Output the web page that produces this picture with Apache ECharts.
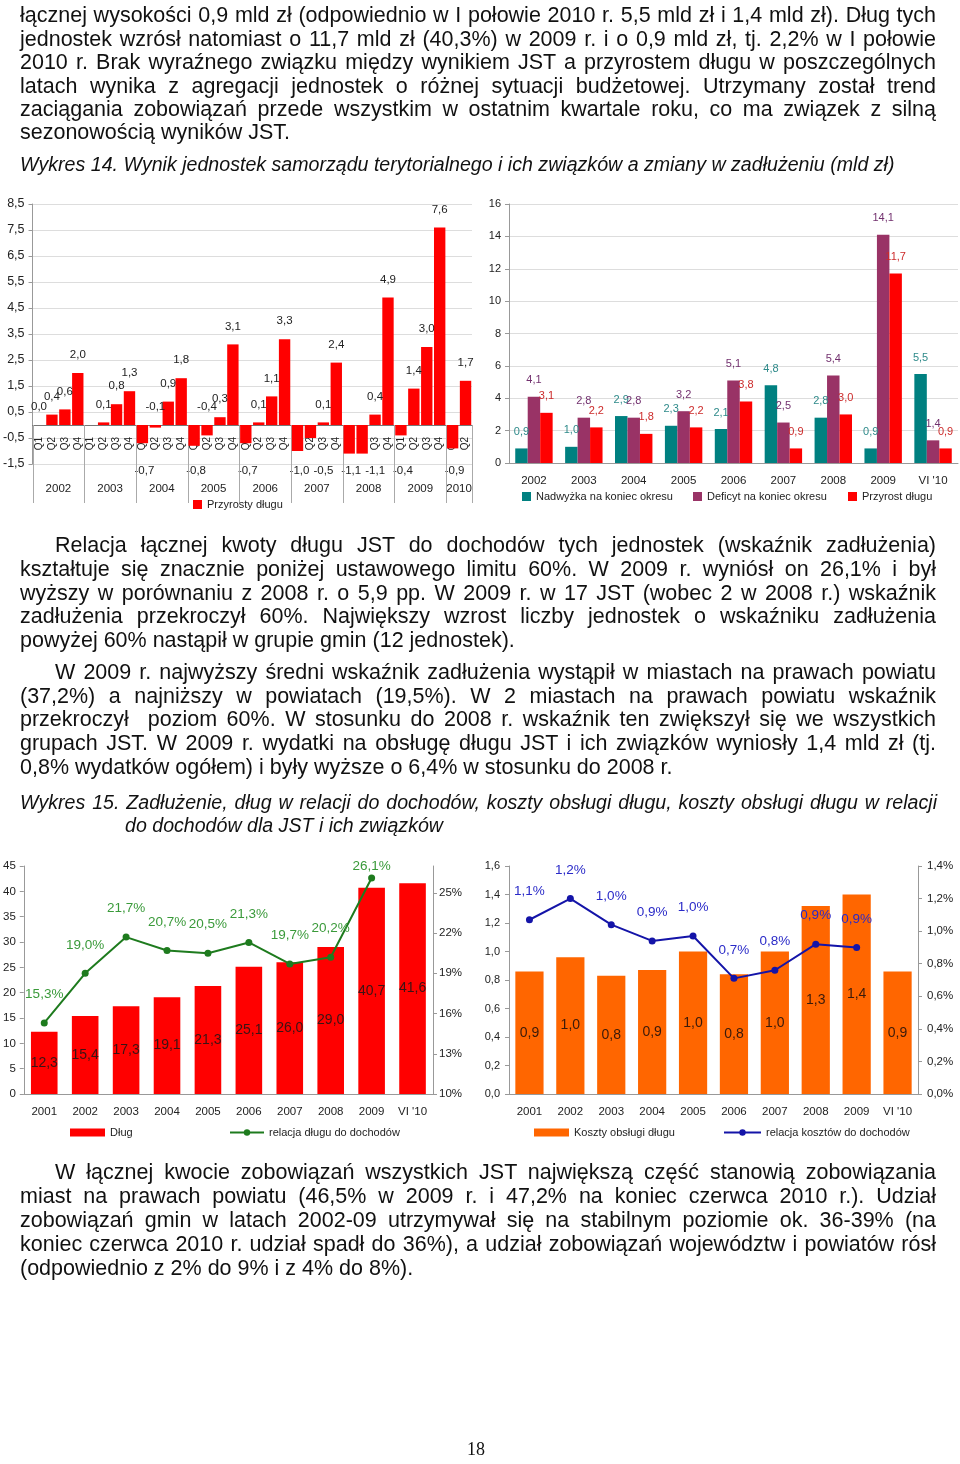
<!DOCTYPE html>
<html><head><meta charset="utf-8">
<script src="https://cdn.jsdelivr.net/npm/echarts@6/dist/echarts.min.js"></script>
<style>
html,body{margin:0;padding:0;background:#fff;}
#page{position:relative;width:960px;height:1464px;overflow:hidden;background:#fff;}
#chart{position:absolute;left:0;top:0;width:960px;height:1464px;}
.ln{position:absolute;white-space:pre;color:#111;}
</style></head>
<body><div id="page"><div id="chart"></div></div>
<script>
// ---------------- DATA ----------------
// Wykres 14 (left): quarterly debt growth, mld zł
const w14Years = ['2002','2003','2004','2005','2006','2007','2008','2009','2010'];
const w14QuartersPerYear = [4,4,4,4,4,4,4,4,2];
const w14QuarterNames = ['Q1','Q2','Q3','Q4'];
const w14Growth = [0.0,0.4,0.6,2.0, null,0.1,0.8,1.3, -0.7,-0.1,0.9,1.8, -0.8,-0.4,0.3,3.1,
                   -0.7,0.1,1.1,3.3, -1.0,-0.5,0.1,2.4, -1.1,-1.1,0.4,4.9, -0.4,1.4,3.0,7.6, -0.9,1.7];
const w14SeriesName = 'Przyrosty długu';
// Wykres 14 (right): surplus / deficit / debt growth
const w14bCategories = ['2002','2003','2004','2005','2006','2007','2008','2009',"VI '10"];
const surplus = [0.9,1.0,2.9,2.3,2.1,4.8,2.8,0.9,5.5];
const deficit = [4.1,2.8,2.8,3.2,5.1,2.5,5.4,14.1,1.4];
const debtGrowth = [3.1,2.2,1.8,2.2,3.8,0.9,3.0,11.7,0.9];
const w14bNames = ['Nadwyżka na koniec okresu','Deficyt na koniec okresu','Przyrost długu'];
// Wykres 15
const w15Categories = ['2001','2002','2003','2004','2005','2006','2007','2008','2009',"VI '10"];
const debt = [12.3,15.4,17.3,19.1,21.3,25.1,26.0,29.0,40.7,41.6];
const debtToIncome = [15.3,19.0,21.7,20.7,20.5,21.3,19.7,20.2,26.1,null];
const serviceCost = [0.86,0.96,0.83,0.87,1.00,0.84,1.00,1.32,1.40,0.86];
const costToIncome = [1.07,1.20,1.04,0.94,0.97,0.71,0.76,0.92,0.90,null];
const w15Names = ['Dług','relacja długu do dochodów','Koszty obsługi długu','relacja kosztów do dochodów'];

// label placement config (style, not data)
const W14_NEG_LABEL_ABOVE = ['2004 Q2','2005 Q2'];
const W15_CLOSE_LABEL = ['2009'];

// ---------------- PAGE TEXT ----------------
const BODY = {size:21.5, style:'normal', fam:"'Liberation Sans', Arial, sans-serif", asc:0.8465};
const CAP = {size:19.6, style:'italic', fam:"'Liberation Sans', Arial, sans-serif", asc:0.8465};
const SERIF = {size:18, style:'normal', fam:"'Liberation Serif', 'Times New Roman', serif", asc:0.8375};
const textLines = [
 {t:'łącznej wysokości 0,9 mld zł (odpowiednio w I połowie 2010 r. 5,5 mld zł i 1,4 mld zł). Dług tych', x0:20, x1:936, b:23.5, j:1, f:BODY},
 {t:'jednostek wzrósł natomiast o 11,7 mld zł (40,3%) w 2009 r. i o 0,9 mld zł, tj. 2,2% w I połowie', x0:20, x1:936, b:46.9, j:1, f:BODY},
 {t:'2010 r. Brak wyraźnego związku między wynikiem JST a przyrostem długu w poszczególnych', x0:20, x1:936, b:70.3, j:1, f:BODY},
 {t:'latach wynika z agregacji jednostek o różnej sytuacji budżetowej. Utrzymany został trend', x0:20, x1:936, b:93.7, j:1, f:BODY},
 {t:'zaciągania zobowiązań przede wszystkim w ostatnim kwartale roku, co ma związek z silną', x0:20, x1:936, b:117.1, j:1, f:BODY},
 {t:'sezonowością wyników JST.', x0:20, b:140.5, f:BODY},
 {t:'Wykres 14. Wynik jednostek samorządu terytorialnego i ich związków a zmiany w zadłużeniu (mld zł)', x0:20, b:171.5, f:CAP},
 {t:'Relacja łącznej kwoty długu JST do dochodów tych jednostek (wskaźnik zadłużenia)', x0:55, x1:936, b:553.3, j:1, f:BODY},
 {t:'kształtuje się znacznie poniżej ustawowego limitu 60%. W 2009 r. wyniósł on 26,1% i był', x0:20, x1:936, b:577, j:1, f:BODY},
 {t:'wyższy w porównaniu z 2008 r. o 5,9 pp. W 2009 r. w 17 JST (wobec 2 w 2008 r.) wskaźnik', x0:20, x1:936, b:600.8, j:1, f:BODY},
 {t:'zadłużenia przekroczył 60%. Największy wzrost liczby jednostek o wskaźniku zadłużenia', x0:20, x1:936, b:624.5, j:1, f:BODY},
 {t:'powyżej 60% nastąpił w grupie gmin (12 jednostek).', x0:20, b:648.3, f:BODY},
 {t:'W 2009 r. najwyższy średni wskaźnik zadłużenia wystąpił w miastach na prawach powiatu', x0:55, x1:936, b:680, j:1, f:BODY},
 {t:'(37,2%) a najniższy w powiatach (19,5%). W 2 miastach na prawach powiatu wskaźnik', x0:20, x1:936, b:703.8, j:1, f:BODY},
 {t:'przekroczył  poziom 60%. W stosunku do 2008 r. wskaźnik ten zwiększył się we wszystkich', x0:20, x1:936, b:727.5, j:1, f:BODY},
 {t:'grupach JST. W 2009 r. wydatki na obsługę długu JST i ich związków wyniosły 1,4 mld zł (tj.', x0:20, x1:936, b:751.3, j:1, f:BODY},
 {t:'0,8% wydatków ogółem) i były wyższe o 6,4% w stosunku do 2008 r.', x0:20, b:775, f:BODY},
 {t:'Wykres 15. Zadłużenie, dług w relacji do dochodów, koszty obsługi długu, koszty obsługi długu w relacji', x0:20, x1:937, b:809.5, j:1, f:CAP},
 {t:'do dochodów dla JST i ich związków', x0:125, b:832.5, f:CAP},
 {t:'W łącznej kwocie zobowiązań wszystkich JST największą część stanowią zobowiązania', x0:55, x1:936, b:1180, j:1, f:BODY},
 {t:'miast na prawach powiatu (46,5% w 2009 r. i 47,2% na koniec czerwca 2010 r.). Udział', x0:20, x1:936, b:1204, j:1, f:BODY},
 {t:'zobowiązań gmin w latach 2002-09 utrzymywał się na stabilnym poziomie ok. 36-39% (na', x0:20, x1:936, b:1228, j:1, f:BODY},
 {t:'koniec czerwca 2010 r. udział spadł do 36%), a udział zobowiązań województw i powiatów rósł', x0:20, x1:936, b:1252, j:1, f:BODY},
 {t:'(odpowiednio z 2% do 9% i z 4% do 8%).', x0:20, b:1276, f:BODY},
 {t:'18', x0:467, b:1455, f:SERIF}
];
const page = document.getElementById('page');
textLines.forEach(L => {
  const d = document.createElement('div');
  d.className = 'ln';
  d.textContent = L.t;
  d.style.fontFamily = L.f.fam;
  d.style.fontSize = L.f.size + 'px';
  d.style.fontStyle = L.f.style;
  d.style.lineHeight = L.f.size + 'px';
  const asc = L.f.asc * L.f.size;
  d.style.left = L.x0 + 'px';
  d.style.top = (L.b - asc) + 'px';
  page.appendChild(d);
  if (L.j) {
    const w = d.getBoundingClientRect().width;
    const n = (L.t.match(/ /g) || []).length;
    if (n) d.style.wordSpacing = ((L.x1 - L.x0 - w) / n) + 'px';
  }
  if (L.f !== SERIF) {
    d.style.transformOrigin = '0 ' + asc + 'px';
    d.style.transform = 'scaleY(1.04)';
  }
});

// ---------------- CHARTS ----------------
const FONT_N = "'Liberation Sans', Arial, sans-serif";
const LBL = '#222';
const AXIS = '#999';
const fmt1 = v => Number(v).toFixed(1).replace('.', ',');

const w14Cats = [], w14Keys = [];
w14Years.forEach((y, k) => {
  for (let q = 0; q < w14QuartersPerYear[k]; q++) {
    w14Cats.push(w14QuarterNames[q]);
    w14Keys.push(y + ' ' + w14QuarterNames[q]);
  }
});
const isBottomLabel = i => w14Growth[i] != null && w14Growth[i] < 0 && !W14_NEG_LABEL_ABOVE.includes(w14Keys[i]);
const w14Data = w14Growth.map((v, i) => {
  if (v == null) return null;
  if (isBottomLabel(i)) return {value: v, label: {show: false}};
  return v;
});
const w15LineData = debtToIncome.map((v, i) =>
  (v != null && W15_CLOSE_LABEL.includes(w15Categories[i])) ? {value: v, label: {distance: 1}} : v);

const valAxisBase = (extra) => Object.assign({
  type: 'value',
  axisLine: {show: true, lineStyle: {color: AXIS}},
  axisTick: {show: true, length: 4, lineStyle: {color: AXIS}},
  splitLine: {show: false},
  axisLabel: {color: LBL, fontFamily: FONT_N, fontSize: 11.5}
}, extra);

const catAxisBase = (extra) => Object.assign({
  type: 'category',
  axisLine: {lineStyle: {color: AXIS}},
  axisTick: {length: 5, lineStyle: {color: AXIS}},
  axisLabel: {color: LBL, fontFamily: FONT_N, fontSize: 11.5, margin: 12, interval: 0}
}, extra);

const legendBase = (extra) => Object.assign({
  padding: 0, itemGap: 0,
  textStyle: {color: LBL, fontFamily: FONT_N, fontSize: 11}
}, extra);

const option = {
  animation: false,
  textStyle: {fontFamily: FONT_N},
  grid: [
    {left: 28, top: 204, width: 444, height: 260},
    {left: 509, top: 204, width: 449, height: 259},
    {left: 22, top: 866, width: 411, height: 228},
    {left: 509, top: 866, width: 409, height: 228}
  ],
  xAxis: [
    catAxisBase({gridIndex: 0, data: w14Cats, position: 'bottom', offset: 0,
      axisLine: {onZero: false, lineStyle: {color: '#777'}},
      axisTick: {length: 14, interval: 0, lineStyle: {color: '#aaa'}},
      axisLabel: {interval: 0, rotate: 90, fontSize: 10, color: LBL, fontFamily: FONT_N, margin: 12}}),
    catAxisBase({gridIndex: 1, data: w14bCategories}),
    catAxisBase({gridIndex: 2, data: w15Categories}),
    catAxisBase({gridIndex: 3, data: w15Categories})
  ],
  yAxis: [
    valAxisBase({gridIndex: 0, min: -1.5, max: 8.5, interval: 1,
      splitLine: {show: true, lineStyle: {color: '#ddd'}},
      axisLabel: {formatter: fmt1, color: LBL, fontFamily: FONT_N, fontSize: 12.5, margin: 8}}),
    valAxisBase({gridIndex: 1, min: 0, max: 16, interval: 2,
      splitLine: {show: true, lineStyle: {color: '#ddd'}},
      axisLabel: {color: LBL, fontFamily: FONT_N, fontSize: 11, margin: 8}}),
    valAxisBase({gridIndex: 2, min: 0, max: 45, interval: 5,
      axisLabel: {color: LBL, fontFamily: FONT_N, fontSize: 11.5, margin: 8}}),
    valAxisBase({gridIndex: 2, position: 'right', min: 10, max: 27, interval: 3,
      axisLabel: {formatter: v => v + '%', showMaxLabel: false, color: LBL, fontFamily: FONT_N, fontSize: 11.5, margin: 6}}),
    valAxisBase({gridIndex: 3, min: 0, max: 1.6, interval: 0.2,
      axisLabel: {formatter: fmt1, color: LBL, fontFamily: FONT_N, fontSize: 11, margin: 9}}),
    valAxisBase({gridIndex: 3, position: 'right', min: 0, max: 1.4, interval: 0.2,
      axisLabel: {formatter: v => fmt1(v) + '%', color: LBL, fontFamily: FONT_N, fontSize: 11.5, margin: 9}})
  ],
  legend: [
    legendBase({data: [w14SeriesName], left: 193, top: 499, icon: 'rect', itemWidth: 9, itemHeight: 9}),
    legendBase({data: [w14bNames[0]], left: 522, top: 491, icon: 'rect', itemWidth: 9, itemHeight: 9}),
    legendBase({data: [w14bNames[1]], left: 693, top: 491, icon: 'rect', itemWidth: 9, itemHeight: 9}),
    legendBase({data: [w14bNames[2]], left: 848, top: 491, icon: 'rect', itemWidth: 9, itemHeight: 9}),
    legendBase({data: [w15Names[0]], left: 70, top: 1127, icon: 'rect', itemWidth: 35, itemHeight: 8}),
    legendBase({data: [w15Names[1]], left: 229, top: 1127, itemWidth: 34, itemHeight: 8}),
    legendBase({data: [w15Names[2]], left: 534, top: 1127, icon: 'rect', itemWidth: 35, itemHeight: 8}),
    legendBase({data: [w15Names[3]], left: 723, top: 1127, itemWidth: 37, itemHeight: 8})
  ],
  series: [
    {type: 'bar', name: w14SeriesName, xAxisIndex: 0, yAxisIndex: 0, data: w14Data,
     barCategoryGap: '12%', itemStyle: {color: '#ff0000'},
     label: {show: true, position: 'top', distance: 12, fontSize: 11.5, color: LBL, fontFamily: FONT_N,
             formatter: p => fmt1(p.value)}},
    {type: 'bar', name: w14bNames[0], xAxisIndex: 1, yAxisIndex: 1, data: surplus,
     barGap: '0%', barCategoryGap: '25%', itemStyle: {color: '#008080'},
     label: {show: true, position: 'top', distance: 11, fontSize: 11, color: '#2e8a8a', fontFamily: FONT_N, formatter: p => fmt1(p.value)}},
    {type: 'bar', name: w14bNames[1], xAxisIndex: 1, yAxisIndex: 1, data: deficit,
     barGap: '0%', barCategoryGap: '25%', itemStyle: {color: '#993366'},
     label: {show: true, position: 'top', distance: 11, fontSize: 11, color: '#72306e', fontFamily: FONT_N, formatter: p => fmt1(p.value)}},
    {type: 'bar', name: w14bNames[2], xAxisIndex: 1, yAxisIndex: 1, data: debtGrowth,
     barGap: '0%', barCategoryGap: '25%', itemStyle: {color: '#ff0000'},
     label: {show: true, position: 'top', distance: 11, fontSize: 11, color: '#cc2a2a', fontFamily: FONT_N, formatter: p => fmt1(p.value)}},
    {type: 'bar', name: w15Names[0], xAxisIndex: 2, yAxisIndex: 2, data: debt,
     barCategoryGap: '35%', itemStyle: {color: '#ff0000'},
     label: {show: true, position: 'inside', fontSize: 14, color: '#3a1414', fontFamily: FONT_N, formatter: p => fmt1(p.value)}},
    {type: 'line', name: w15Names[1], xAxisIndex: 2, yAxisIndex: 3, data: w15LineData,
     itemStyle: {color: '#1e7b1e'}, lineStyle: {color: '#1e7b1e', width: 2},
     symbol: 'circle', symbolSize: 7,
     label: {show: true, position: 'top', distance: 18, fontSize: 13.5, color: '#3a9a3a', fontFamily: FONT_N, formatter: p => fmt1(p.value) + '%'}},
    {type: 'bar', name: w15Names[2], xAxisIndex: 3, yAxisIndex: 4, data: serviceCost,
     barCategoryGap: '31%', itemStyle: {color: '#ff6600'},
     label: {show: true, position: 'inside', fontSize: 14, color: '#3a1a0a', fontFamily: FONT_N, formatter: p => fmt1(p.value)}},
    {type: 'line', name: w15Names[3], xAxisIndex: 3, yAxisIndex: 5, data: costToIncome,
     itemStyle: {color: '#1414a8'}, lineStyle: {color: '#1414a8', width: 2},
     symbol: 'circle', symbolSize: 7,
     label: {show: true, position: 'top', distance: 18, fontSize: 13.5, color: '#2a2ac8', fontFamily: FONT_N, formatter: p => fmt1(p.value) + '%'}}
  ]
};

const chart = echarts.init(document.getElementById('chart'), null, {renderer: 'canvas'});
chart.setOption(option);

// Move the quarter axis of Wykres 14 up to the zero line (offset from the grid bottom, via the axis scale)
const px = i => chart.convertToPixel({seriesIndex: 0}, [i, 0]);
const zeroY = px(0)[1];
const gridBottomY = chart.convertToPixel({seriesIndex: 0}, [0, -1.5])[1];
chart.setOption({xAxis: [{offset: zeroY - gridBottomY}]});

// Multi-level category decorations for Wykres 14 (left)
const YEAR_LABEL_Y = 489, SEP_BOTTOM = 503, NEG_LABEL_Y = 471;
const band = px(1)[0] - px(0)[0];
const gfx = [];
const txt = (x, y, s) => ({type: 'text', x: x, y: y, silent: true,
  style: {text: s, fill: LBL, font: '11.5px ' + FONT_N, align: 'center', verticalAlign: 'middle',
          textAlign: 'center', textVerticalAlign: 'middle'}});
const vline = (x, y1, y2) => ({type: 'line', silent: true, z: 1,
  shape: {x1: Math.round(x) + 0.5, y1: y1, x2: Math.round(x) + 0.5, y2: y2},
  style: {stroke: '#aaa', lineWidth: 1}});
let start = 0;
w14Years.forEach((y, k) => {
  const n = w14QuartersPerYear[k];
  const xL = px(start)[0] - band / 2;
  const xR = px(start + n - 1)[0] + band / 2;
  gfx.push(vline(xL, zeroY, SEP_BOTTOM));
  if (k === w14Years.length - 1) gfx.push(vline(xR, zeroY, SEP_BOTTOM));
  gfx.push(txt((xL + xR) / 2, YEAR_LABEL_Y, y));
  start += n;
});
w14Growth.forEach((v, i) => {
  if (!isBottomLabel(i)) return;
  const shift = (i > 0 && isBottomLabel(i - 1)) ? 13 : 2;
  gfx.push(txt(px(i)[0] + shift, NEG_LABEL_Y, fmt1(v)));
});
chart.setOption({graphic: {elements: gfx}});
</script>
</body></html>
